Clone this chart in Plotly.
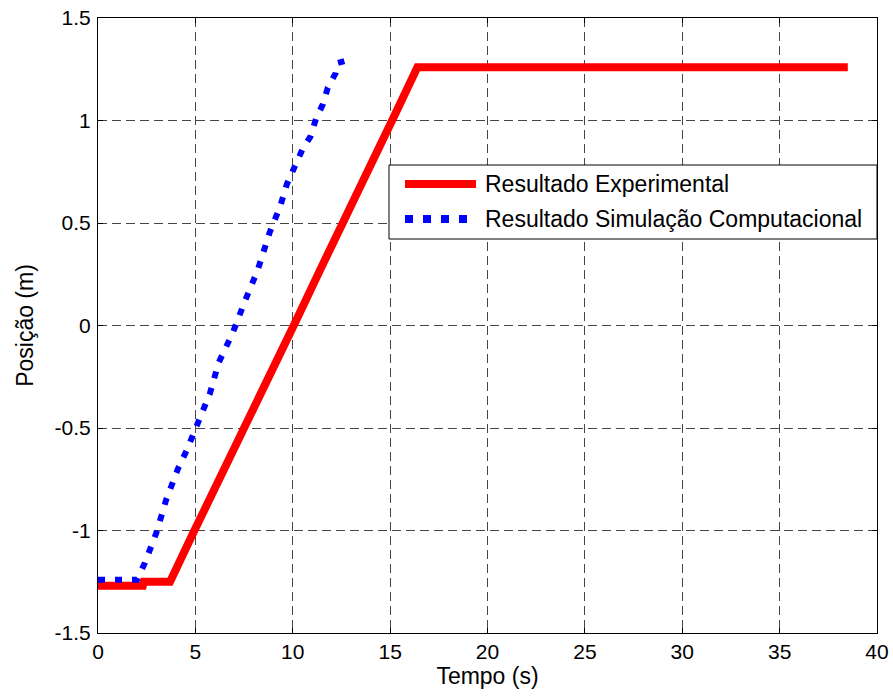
import plotly.graph_objects as go

# Experimental result (red solid)
exp_t = [0, 1.0, 2.3, 2.35, 3.7, 4.9, 6.3, 7.6, 8.9, 10.1, 11.4, 12.6, 13.9, 15.2, 16.4, 20, 25, 30, 35, 38.5]
exp_y = [-1.27, -1.27, -1.27, -1.25, -1.25, -1.01, -0.74, -0.48, -0.23, 0.01, 0.27, 0.50, 0.76, 1.02, 1.26, 1.26, 1.26, 1.26, 1.26, 1.26]

# Computational simulation result (blue dotted)
sim_t = [0, 1.0, 2.0, 2.4, 3.0, 3.5, 4.1, 4.55, 5.1, 5.75, 6.2, 6.9, 7.55, 8.2, 8.8, 9.35, 9.7, 10.1, 10.5, 10.9, 11.2, 11.55, 11.8, 12.2, 12.3, 12.65]
sim_y = [-1.24, -1.24, -1.24, -1.16, -1.01, -0.85, -0.70, -0.61, -0.48, -0.33, -0.18, -0.04, 0.12, 0.27, 0.45, 0.58, 0.69, 0.77, 0.86, 0.92, 1.01, 1.08, 1.16, 1.23, 1.28, 1.29]

x_ticks = [0, 5, 10, 15, 20, 25, 30, 35, 40]
x_labels = ["0", "5", "10", "15", "20", "25", "30", "35", "40"]
y_ticks = [-1.5, -1, -0.5, 0, 0.5, 1, 1.5]
y_labels = ["-1.5", "-1", "-0.5", "0", "0.5", "1", "1.5"]

series_names = ["Resultado Experimental", "Resultado Simulação Computacional"]

FONT = "Liberation Sans, Arial, sans-serif"
W, H = 893, 700
L, T, R, B = 98, 18, 16, 67
pw, ph = W - L - R, H - T - B

def px(xp):
    return (xp - L) / pw

def py(yp):
    return (H - B - yp) / ph

fig = go.Figure()
fig.add_trace(go.Scatter(x=exp_t, y=exp_y, mode="lines", name=series_names[0],
                         line=dict(color="#ff0000", width=8), showlegend=False))
fig.add_trace(go.Scatter(x=sim_t, y=sim_y, mode="lines", name=series_names[1],
                         line=dict(color="#0000ff", width=6, dash="7px,10px"), showlegend=False))

grid = dict(showgrid=True, gridcolor="rgb(70,70,70)", gridwidth=1, griddash="9px,5px")
axis_common = dict(showline=True, linecolor="black", linewidth=1, mirror="ticks",
                   ticks="inside", ticklen=5, tickcolor="black", zeroline=False,
                   ticklabeloverflow="allow",
                   tickfont=dict(family=FONT, size=21, color="black"), **grid)

fig.update_xaxes(range=[0, 40], tickvals=x_ticks, ticktext=x_labels,
                 title=dict(text="Tempo (s)", font=dict(family=FONT, size=23, color="black"), standoff=4),
                 **axis_common)
fig.update_yaxes(range=[-1.5, 1.5], tickvals=y_ticks, ticktext=y_labels, ticklabelstandoff=2,
                 title=dict(text="Posição (m)", font=dict(family=FONT, size=23, color="black"), standoff=14),
                 **axis_common)

# manual legend
shapes = [
    dict(type="rect", xref="paper", yref="paper", x0=px(389), x1=px(877), y0=py(239), y1=py(165),
         line=dict(color="black", width=1), fillcolor="white", layer="above"),
    dict(type="line", xref="paper", yref="paper", x0=px(405), x1=px(476), y0=py(184), y1=py(184),
         line=dict(color="#ff0000", width=8), layer="above"),
    dict(type="line", xref="paper", yref="paper", x0=px(405), x1=px(470), y0=py(219), y1=py(219),
         line=dict(color="#0000ff", width=8, dash="8px,10px"), layer="above"),
]
annotations = [
    dict(xref="paper", yref="paper", x=px(483), y=py(184), text=series_names[0], showarrow=False,
         xanchor="left", yanchor="middle", font=dict(family=FONT, size=23, color="black")),
    dict(xref="paper", yref="paper", x=px(483), y=py(219), text=series_names[1], showarrow=False,
         xanchor="left", yanchor="middle", font=dict(family=FONT, size=23, color="black")),
]

fig.update_layout(width=W, height=H, margin=dict(l=L, r=R, t=T, b=B, autoexpand=False),
                  paper_bgcolor="white", plot_bgcolor="white", showlegend=False,
                  shapes=shapes, annotations=annotations,
                  font=dict(family=FONT, size=21, color="black"))

fig.write_html("out.html", config={"displayModeBar": False},
               post_script="document.body.style.margin='0';document.body.style.overflow='hidden';")
